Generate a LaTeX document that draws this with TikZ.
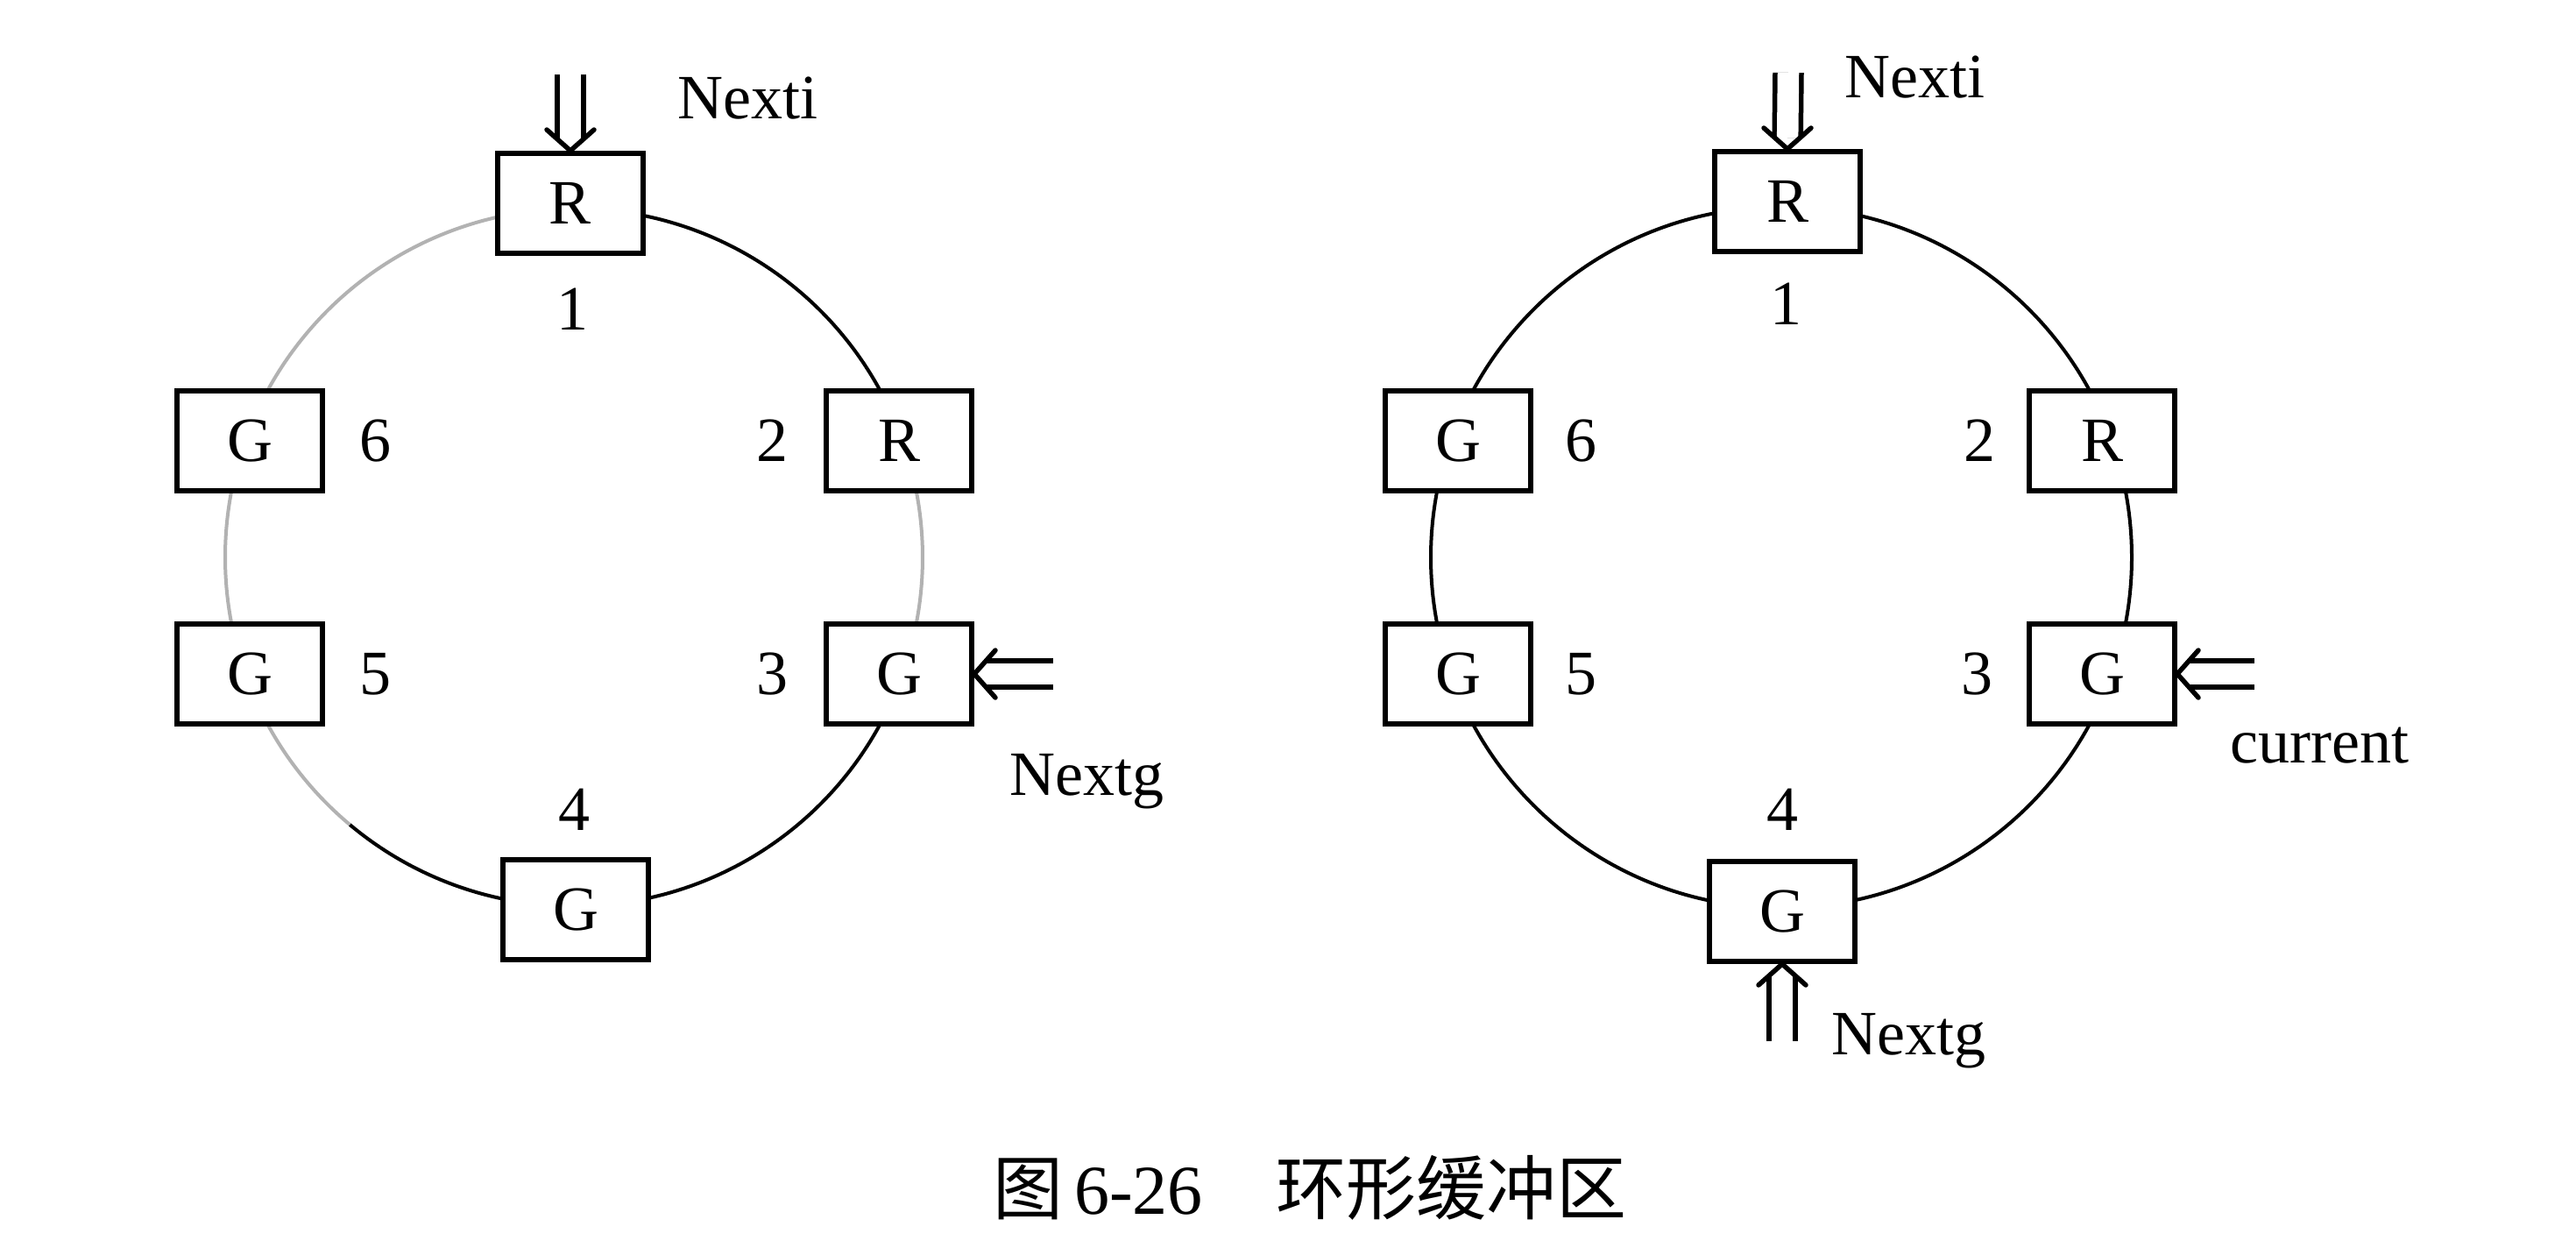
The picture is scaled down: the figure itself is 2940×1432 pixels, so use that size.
\documentclass[tikz,border=0pt]{standalone}
\usepackage{fontspec}
\setmainfont{Liberation Serif}
\newfontfamily\cjk{Noto Sans CJK SC}
\usetikzlibrary{calc}
\begin{document}
\begin{tikzpicture}[x=1pt,y=-1pt,
  cell/.style={draw, line width=6pt, fill=white, minimum width=166pt, minimum height=114pt, inner sep=0pt, font=\fontsize{72}{86}\selectfont},
  lbl/.style={inner sep=0pt, font=\fontsize{72}{86}\selectfont},
  ring/.style={line width=4pt, draw=black},
  faint/.style={line width=4pt, draw=black!30},
  dblline/.style={double, double distance=24.5pt, line width=5.5pt, shorten >=13pt},
  chev/.style={line width=5.5pt, line join=miter, line cap=round},
]
\useasboundingbox[fill=white] (0,0) rectangle (2940,1432);

% ---------- left ring ----------
\coordinate (cL) at (655,636);
\draw[ring]  (cL) ++(-90:398)   arc[start angle=-90,   end angle=-19.5, radius=398];
\draw[faint] (cL) ++(-19.5:398) arc[start angle=-19.5, end angle=19.5,  radius=398];
\draw[ring]  (cL) ++(19.5:398)  arc[start angle=19.5,  end angle=130,   radius=398];
\draw[faint] (cL) ++(130:398)   arc[start angle=130,   end angle=270,   radius=398];

\node[cell] (L1) at (651,232)  {R};
\node[cell] (L2) at (1026,503) {R};
\node[cell] (L3) at (1026,769) {G};
\node[cell] (L4) at (657,1038) {G};
\node[cell] (L5) at (285,769)  {G};
\node[cell] (L6) at (285,503)  {G};

\node[lbl] (nL1) at (653,353) {1};
\node[lbl] (nL2) at (881,503) {2};
\node[lbl] (nL3) at (881,769) {3};
\node[lbl] (nL4) at (655,924) {4};
\node[lbl] (nL5) at (428,769) {5};
\node[lbl] (nL6) at (428,503) {6};

\coordinate (aL1) at (651,85);
\coordinate (aL3) at (1202,769);
\draw[dblline] (aL1) -- (L1.north);
\draw[chev] ($(L1.north)+(-27,-24)$) -- (L1.north) -- ($(L1.north)+(27,-24)$);
\draw[dblline] (aL3) -- (L3.east);
\draw[chev] ($(L3.east)+(24,-27)$) -- (L3.east) -- ($(L3.east)+(24,27)$);
\node[lbl, anchor=base west] (nextiL) at (773,135) {Nexti};
\node[lbl, anchor=base west] (nextgL) at (1152,907) {Nextg};

% ---------- right ring ----------
\coordinate (cR) at (2033,636);
\draw[ring] (cR) circle[radius=400];

\node[cell] (R1) at (2040,230)  {R};
\node[cell] (R2) at (2399,503)  {R};
\node[cell] (R3) at (2399,769)  {G};
\node[cell] (R4) at (2034,1040) {G};
\node[cell] (R5) at (1664,769)  {G};
\node[cell] (R6) at (1664,503)  {G};

\node[lbl] (nR1) at (2038,347) {1};
\node[lbl] (nR2) at (2259,503) {2};
\node[lbl] (nR3) at (2256,769) {3};
\node[lbl] (nR4) at (2034,924) {4};
\node[lbl] (nR5) at (1804,769) {5};
\node[lbl] (nR6) at (1804,503) {6};

\coordinate (aR1) at (2041,83);
\coordinate (aR3) at (2573,769);
\coordinate (aR4) at (2034,1188);
\draw[dblline] (aR1) -- (R1.north);
\draw[chev] ($(R1.north)+(-27,-24)$) -- (R1.north) -- ($(R1.north)+(27,-24)$);
\draw[dblline] (aR3) -- (R3.east);
\draw[chev] ($(R3.east)+(24,-27)$) -- (R3.east) -- ($(R3.east)+(24,27)$);
\draw[dblline] (aR4) -- (R4.south);
\draw[chev] ($(R4.south)+(-27,24)$) -- (R4.south) -- ($(R4.south)+(27,24)$);
\node[lbl, anchor=base west] (nextiR) at (2105,111) {Nexti};
\node[lbl, anchor=base west] (curR) at (2545,870) {current};
\node[lbl, anchor=base west] (nextgR) at (2090,1203) {Nextg};

% ---------- caption ----------
\node[anchor=base west, inner sep=0pt, font=\fontsize{80}{96}\selectfont] (cap) at (1133,1385)
  {{\cjk 图}\hspace{13pt}6-26\hspace{84pt}{\cjk 环形缓冲区}};
\end{tikzpicture}
\end{document}
